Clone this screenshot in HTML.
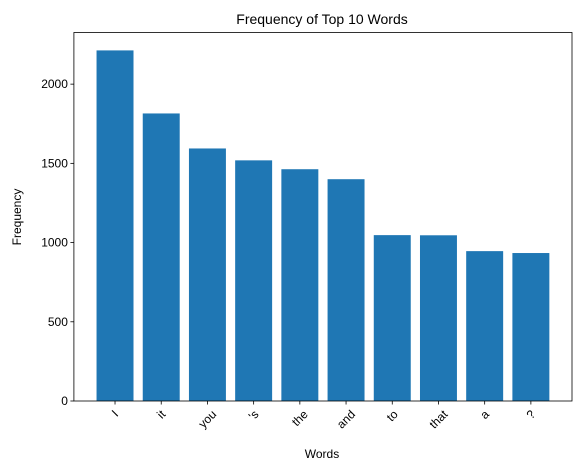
<!DOCTYPE html>
<html><head><meta charset="utf-8"><style>
body{margin:0;background:#fff}
text{font-family:"Liberation Sans","DejaVu Sans",sans-serif;fill:#000}
</style></head><body>
<svg id="chart" width="580" height="471" xmlns="http://www.w3.org/2000/svg">
<rect width="580" height="471" fill="#fff"/>
<text x="322" y="24" font-size="14" text-anchor="middle">Frequency of Top 10 Words</text>
<text x="322" y="458" font-size="12" text-anchor="middle">Words</text>
<text x="0" y="0" font-size="12" text-anchor="middle" transform="translate(21,217) rotate(-90)">Frequency</text>
<g id="bars"></g><g id="axes"></g>
</svg>
<script>
const categories=["I","it","you","'s","the","and","to","that","a","?"];
const values=[2213,1815,1594,1519,1463,1400,1047,1046,946,934];
const yTicks=[0,500,1000,1500,2000];
const L=73.9,R=572,T=32.5,B=401;
const xmin=-0.89,xmax=9.89,ymax=2326;
const sx=v=>L+(v-xmin)/(xmax-xmin)*(R-L);
const sy=v=>B-v/ymax*(B-T);
const NS="http://www.w3.org/2000/svg";
const bars=document.getElementById('bars'),axes=document.getElementById('axes');
function mk(tag,attrs,parent){const e=document.createElementNS(NS,tag);for(const k in attrs)e.setAttribute(k,attrs[k]);parent.appendChild(e);return e;}
values.forEach((v,i)=>{
 const r=mk('rect',{x:sx(i-0.4),y:sy(v),width:sx(0.4)-sx(-0.4),height:B-sy(v),fill:'#1f77b4'},bars);
 
 
 mk('line',{x1:sx(i),x2:sx(i),y1:B,y2:B+3.5,stroke:'#000','stroke-width':0.8},axes);
 const t=mk('text',{'font-size':12,'text-anchor':'middle','dominant-baseline':'central'},axes);
 t.textContent=categories[i];
 
 
 const w=t.getComputedTextLength();
 const cy=B+7+(w+12)*0.707/2;
 t.setAttribute('transform',`translate(${sx(i)},${cy}) rotate(-45)`);
});
yTicks.forEach(v=>{
 mk('line',{x1:L-3.5,x2:L,y1:sy(v),y2:sy(v),stroke:'#000','stroke-width':0.8},axes);
 const t=mk('text',{x:L-6,y:sy(v)+4,'font-size':12,'text-anchor':'end'},axes);
 t.textContent=v;
 
 
});
const f=mk('rect',{x:L,y:T,width:R-L,height:B-T,fill:'none',stroke:'#000','stroke-width':0.8},axes);


</script>
</body></html>
